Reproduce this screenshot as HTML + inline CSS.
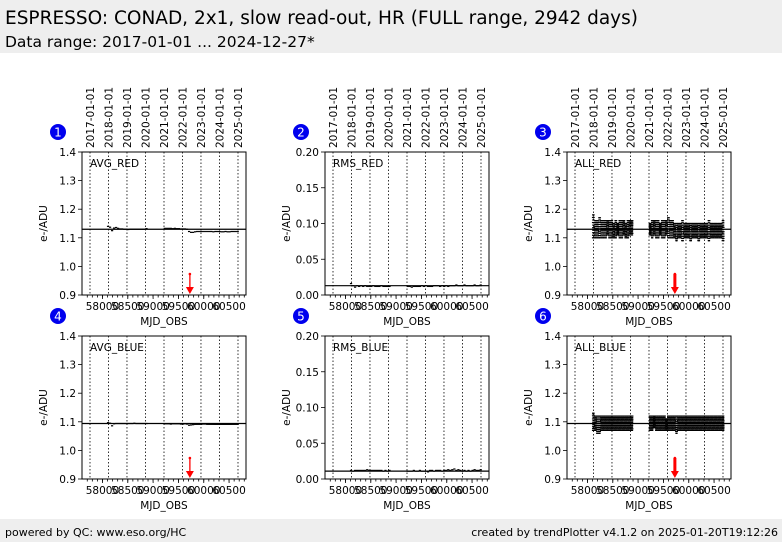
<!DOCTYPE html>
<html><head><meta charset="utf-8"><style>
body{margin:0;background:#fff;font-family:"Liberation Sans","DejaVu Sans",sans-serif;}
svg{display:block}
</style></head><body>
<svg id="chart" width="782" height="542" viewBox="0 0 782 542" xmlns="http://www.w3.org/2000/svg" font-family="DejaVu Sans, Liberation Sans, sans-serif">
<rect x="0" y="0" width="782" height="53" fill="#eeeeee"/>
<text x="5" y="24" font-size="18.5" fill="#000">ESPRESSO: CONAD, 2x1, slow read-out, HR (FULL range, 2942 days)</text>
<text x="5" y="47" font-size="15.5" fill="#000">Data range: 2017-01-01 ... 2024-12-27*</text>
<rect x="0" y="519" width="782" height="23" fill="#eeeeee"/>
<text x="5" y="536" font-size="11">powered by QC: www.eso.org/HC</text>
<text x="778" y="536" font-size="11" text-anchor="end">created by trendPlotter v4.1.2 on 2025-01-20T19:12:26</text>
<g id="plots"></g>
</svg>
<script>
const yearLabels=["2017-01-01","2018-01-01","2019-01-01","2020-01-01","2021-01-01","2022-01-01","2023-01-01","2024-01-01","2025-01-01"];
const yearMjd=[57754,58119,58484,58849,59215,59580,59945,60310,60676];
const xTicks=[58000,58500,59000,59500,60000,60500];
const mjd=[58100,58140,58180,58220,58260,58300,58340,58380,58420,58460,58500,58540,58580,58620,58660,58700,58740,58780,58820,58860,
59220,59260,59300,59340,59380,59420,59460,59500,59540,59580,59620,59660,59700,
59740,59780,59820,59860,59900,59940,59980,60020,60060,60100,60140,60180,60220,60260,60300,60340,60380,60420,60460,60500,60540,60580,60620,60660];
const avgRed=[1.14,1.137,1.125,1.134,1.136,1.133,1.131,1.131,1.13,1.13,1.129,1.13,1.13,1.13,1.13,1.13,1.13,1.13,1.13,1.132,
1.133,1.133,1.133,1.133,1.132,1.133,1.132,1.132,1.131,1.131,1.131,1.13,1.122,
1.119,1.119,1.121,1.122,1.122,1.122,1.122,1.122,1.122,1.122,1.122,1.121,1.122,1.122,1.122,1.121,1.121,1.122,1.121,1.121,1.122,1.122,1.122,1.122];
const avgBlue=[1.097,1.095,1.086,1.093,1.094,1.094,1.094,1.094,1.094,1.094,1.094,1.094,1.094,1.095,1.094,1.094,1.094,1.094,1.094,1.094,
1.093,1.093,1.093,1.092,1.093,1.093,1.093,1.093,1.092,1.092,1.093,1.092,1.088,
1.089,1.09,1.091,1.091,1.091,1.091,1.092,1.092,1.091,1.091,1.091,1.091,1.091,1.091,1.091,1.091,1.091,1.091,1.091,1.091,1.091,1.091,1.091,1.091];
const rmsRed=[0.016,0.013,0.011,0.013,0.012,0.013,0.012,0.013,0.012,0.012,0.012,0.013,0.012,0.012,0.012,0.013,0.012,0.012,0.012,0.012,
0.012,0.012,0.011,0.012,0.012,0.012,0.012,0.013,0.012,0.013,0.012,0.012,0.012,
0.013,0.013,0.013,0.012,0.013,0.012,0.013,0.012,0.013,0.013,0.013,0.014,0.013,0.013,0.013,0.014,0.013,0.013,0.013,0.013,0.014,0.013,0.013,0.014];
const rmsBlue=[0.012,0.011,0.012,0.012,0.012,0.012,0.012,0.012,0.013,0.012,0.012,0.012,0.012,0.012,0.012,0.012,0.011,0.012,0.011,0.012,
0.011,0.011,0.011,0.012,0.011,0.011,0.012,0.011,0.011,0.011,0.01,0.012,0.012,
0.011,0.012,0.012,0.012,0.011,0.012,0.012,0.013,0.012,0.013,0.014,0.012,0.013,0.012,0.011,0.012,0.011,0.012,0.011,0.012,0.013,0.012,0.012,0.013];
const allRedLo=[1.10,1.10,1.10,1.10,1.10,1.10,1.10,1.11,1.10,1.10,1.10,1.10,1.11,1.10,1.10,1.11,1.10,1.10,1.11,1.11,
1.11,1.10,1.11,1.10,1.10,1.11,1.10,1.10,1.11,1.10,1.10,1.10,1.10,
1.09,1.10,1.10,1.09,1.10,1.10,1.10,1.09,1.10,1.10,1.10,1.09,1.10,1.10,1.10,1.10,1.09,1.10,1.10,1.10,1.10,1.10,1.10,1.09];
const allRedHi=[1.18,1.16,1.16,1.17,1.16,1.16,1.16,1.16,1.16,1.16,1.15,1.16,1.15,1.16,1.16,1.16,1.15,1.16,1.16,1.16,
1.15,1.16,1.16,1.16,1.16,1.15,1.16,1.16,1.16,1.17,1.16,1.16,1.15,
1.15,1.15,1.15,1.16,1.15,1.15,1.15,1.15,1.15,1.15,1.15,1.15,1.15,1.15,1.15,1.15,1.16,1.15,1.15,1.15,1.15,1.15,1.15,1.16];
const allBlueLo=[1.07,1.07,1.06,1.06,1.07,1.07,1.07,1.07,1.07,1.07,1.07,1.07,1.07,1.07,1.07,1.07,1.07,1.07,1.07,1.07,
1.07,1.07,1.08,1.07,1.07,1.07,1.07,1.07,1.07,1.07,1.07,1.07,1.07,
1.06,1.07,1.07,1.07,1.07,1.07,1.07,1.07,1.07,1.07,1.07,1.07,1.07,1.07,1.07,1.07,1.07,1.07,1.07,1.07,1.07,1.07,1.07,1.07];
const allBlueHi=[1.13,1.12,1.12,1.12,1.12,1.12,1.12,1.12,1.12,1.12,1.12,1.12,1.12,1.12,1.12,1.12,1.12,1.12,1.12,1.12,
1.12,1.12,1.12,1.12,1.12,1.12,1.12,1.12,1.11,1.12,1.12,1.12,1.12,
1.12,1.12,1.12,1.12,1.12,1.12,1.12,1.12,1.12,1.12,1.12,1.12,1.12,1.12,1.12,1.12,1.12,1.12,1.12,1.12,1.12,1.12,1.12,1.12];
const refValues=[1.13,0.013,1.13,1.094,0.011,1.094];
const arrowMjd=59726;

const NS="http://www.w3.org/2000/svg";
const root=document.getElementById('plots');
function el(tag,attrs,parent){const e=document.createElementNS(NS,tag);for(const k in attrs)e.setAttribute(k,attrs[k]);(parent||root).appendChild(e);return e;}
const X0=57596,X1=60834;
const panels=[
 {n:1,label:"AVG_RED",left:82,top:152,y0:0.9,y1:1.4,yt:[0.9,1.0,1.1,1.2,1.3,1.4],fmt:1,type:"line",vals:avgRed,arrow:true},
 {n:2,label:"RMS_RED",left:325,top:152,y0:0,y1:0.2,yt:[0,0.05,0.1,0.15,0.2],fmt:2,type:"line",vals:rmsRed,arrow:false},
 {n:3,label:"ALL_RED",left:567,top:152,y0:0.9,y1:1.4,yt:[0.9,1.0,1.1,1.2,1.3,1.4],fmt:1,type:"all",lo:allRedLo,hi:allRedHi,arrow:true},
 {n:4,label:"AVG_BLUE",left:82,top:336,y0:0.9,y1:1.4,yt:[0.9,1.0,1.1,1.2,1.3,1.4],fmt:1,type:"line",vals:avgBlue,arrow:true},
 {n:5,label:"RMS_BLUE",left:325,top:336,y0:0,y1:0.2,yt:[0,0.05,0.1,0.15,0.2],fmt:2,type:"line",vals:rmsBlue,arrow:false},
 {n:6,label:"ALL_BLUE",left:567,top:336,y0:0.9,y1:1.4,yt:[0.9,1.0,1.1,1.2,1.3,1.4],fmt:1,type:"all",lo:allBlueLo,hi:allBlueHi,arrow:true}
];
const W=164,H=143;
panels.forEach((p,pi)=>{
 const g=el('g',{});
 
 
 const xs=m=>p.left+(m-X0)/(X1-X0)*W;
 const ys=v=>p.top+H-(v-p.y0)/(p.y1-p.y0)*H;
 yearMjd.forEach((m,i)=>{
  const x=xs(m);
  const l=el('line',{x1:x,x2:x,y1:p.top,y2:p.top+H,stroke:'#000','stroke-width':0.8,'stroke-dasharray':'1.5,2'},g);
  
  
  if(p.top<200){
   const t=el('text',{x:0,y:0,'font-size':10.5,transform:`translate(${x+4},${p.top-4}) rotate(-90)`},g);
   t.textContent=yearLabels[i];
   
   
  }
 });
 for(let m=57700;m<=60800;m+=100){const x=xs(m);el('line',{x1:x,x2:x,y1:p.top+H,y2:p.top+H+2.5,stroke:'#000','stroke-width':0.8},g);}
 xTicks.forEach(m=>{const x=xs(m);el('line',{x1:x,x2:x,y1:p.top+H,y2:p.top+H+4,stroke:'#000','stroke-width':0.8},g);
  const t=el('text',{x:x,y:p.top+H+15,'font-size':10.5,'text-anchor':'middle'},g);t.textContent=m;
  
  });
 p.yt.forEach(v=>{const y=ys(v);el('line',{x1:p.left-4,x2:p.left,y1:y,y2:y,stroke:'#000','stroke-width':0.8},g);
  const t=el('text',{x:p.left-6,y:y+4,'font-size':10.5,'text-anchor':'end'},g);t.textContent=v.toFixed(p.fmt);
  
  });
 const xl=el('text',{x:p.left+W/2,y:p.top+H+30,'font-size':10.5,'text-anchor':'middle'},g);xl.textContent='MJD_OBS';
 
 
 const yl=el('text',{x:0,y:0,'font-size':10.5,'text-anchor':'middle',transform:`translate(${p.left-35},${p.top+H/2}) rotate(-90)`},g);yl.textContent='e-/ADU';
 
 
 if(p.type==='line'){
  p.vals.forEach((v,i)=>{
   for(let k=0;k<=1;k++){const c=el('rect',{x:xs(mjd[i]+k*20)-0.6,y:ys(v)-0.6,width:1.2,height:1.2,fill:'#000'},g);
   
   }
  });
 } else {
  mjd.forEach((m,i)=>{
   const lo=p.lo[i],hi=p.hi[i];
   for(let k=0;k<4;k++){
    for(let j=0;j<=9;j++){
     const v=lo+(hi-lo)*((j*7+k*3+i*5)%10)/9;
     const c=el('rect',{x:xs(m+k*10+((j*3)%4)*2)-0.6,y:ys(v)-0.6,width:1.2,height:1.2,fill:'#000'},g);
     
     
    }
   }
  });
 }
 const ry=ys(refValues[pi]);
 const rl=el('line',{x1:p.left,x2:p.left+W,y1:ry,y2:ry,stroke:'#000','stroke-width':1.2},g);
 
 
 if(p.arrow){
  const ax=xs(arrowMjd);
  const a=el('g',{},g);
  
  
  el('line',{x1:ax,x2:ax,y1:p.top+H-21,y2:p.top+H-6,stroke:'red','stroke-width':p.type==='all'?3:1.3},a);
  el('circle',{cx:ax,cy:p.top+H-21,r:1.3,fill:'red'},a);
  el('polygon',{points:`${ax-4},${p.top+H-8} ${ax+4},${p.top+H-8} ${ax},${p.top+H-1}`,fill:'red'},a);
 }
 const lt=el('text',{x:p.left+8,y:p.top+15,'font-size':10.5},g);lt.textContent=p.label;
 
 
 el('rect',{x:p.left,y:p.top,width:W,height:H,fill:'none',stroke:'#000','stroke-width':1},g);
 const cx=p.left-24,cy=p.top-20;
 const bc=el('circle',{cx:cx,cy:cy,r:8,fill:'#0000ee'},g);
 
 
 const bt=el('text',{x:cx,y:cy+4.5,'font-size':12,'text-anchor':'middle',fill:'#fff'},g);bt.textContent=p.n;
 
 
});
</script>
</body></html>
